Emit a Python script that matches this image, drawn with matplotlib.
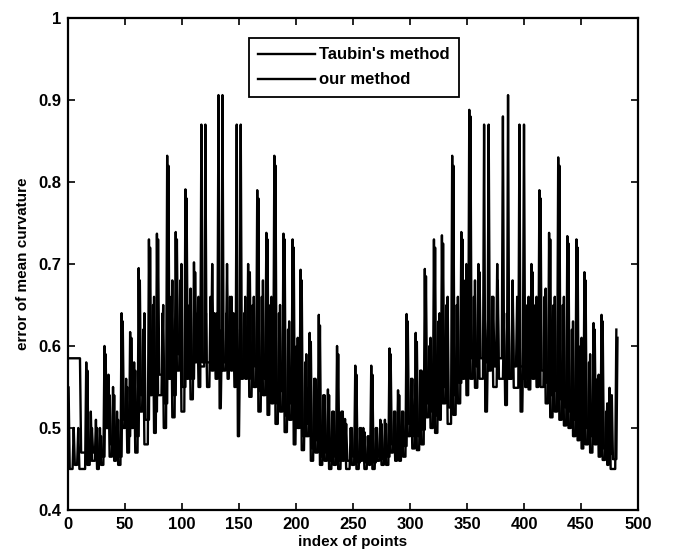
import matplotlib
matplotlib.use("Agg")
import matplotlib.pyplot as plt

# spike centres (point index), spike tops and the trough just before each spike,
# read off the scanned figure
taubin_x = [0.5, 5, 9, 16, 20, 24.5, 28, 32, 35.5, 39.5,
            43, 47, 51, 54.5, 58, 62, 66, 71, 74.5, 78,
            83, 87, 90.5, 94.5, 98.5, 103, 106.5, 110.5, 113.5, 117,
            121, 125, 128.5, 132, 135, 139, 142, 145, 148, 151,
            154.5, 158, 162, 166, 170, 174, 177.5, 181, 185, 189,
            193, 197, 200.5, 204, 208, 212, 216, 220, 224, 228,
            232, 236, 240, 243, 248, 252, 256, 259, 263, 266,
            270, 274, 278, 282, 286, 289.5, 293, 297, 301, 305,
            309, 313, 317, 321, 325, 328, 332, 337, 341, 345,
            348.5, 352, 356, 360, 365, 368.5, 372, 377, 382.5, 386,
            390, 396, 399.5, 403, 406.5, 410, 413.5, 418, 422, 426,
            430, 434, 438, 442, 446, 449.5, 453, 457, 461, 464.5,
            468, 472, 475, 481]
taubin_peak = [0.55, 0.50, 0.50, 0.58, 0.52, 0.51, 0.50, 0.60, 0.565, 0.55,
               0.52, 0.64, 0.56, 0.617, 0.58, 0.695, 0.62, 0.73, 0.65, 0.737,
               0.64, 0.832, 0.66, 0.739, 0.68, 0.791, 0.65, 0.702, 0.64, 0.87,
               0.64, 0.66, 0.64, 0.906, 0.62, 0.64, 0.66, 0.64, 0.87, 0.62,
               0.64, 0.70, 0.65, 0.79, 0.66, 0.738, 0.65, 0.832, 0.64, 0.737,
               0.62, 0.73, 0.60, 0.693, 0.58, 0.616, 0.56, 0.638, 0.54, 0.547,
               0.52, 0.60, 0.52, 0.511, 0.50, 0.576, 0.50, 0.50, 0.49, 0.576,
               0.50, 0.51, 0.51, 0.597, 0.52, 0.546, 0.52, 0.639, 0.56, 0.616,
               0.57, 0.694, 0.60, 0.73, 0.63, 0.735, 0.65, 0.832, 0.65, 0.739,
               0.68, 0.888, 0.66, 0.70, 0.87, 0.62, 0.66, 0.68, 0.64, 0.906,
               0.66, 0.87, 0.62, 0.65, 0.70, 0.65, 0.79, 0.66, 0.738, 0.65,
               0.83, 0.65, 0.734, 0.62, 0.73, 0.60, 0.69, 0.58, 0.628, 0.56,
               0.638, 0.52, 0.549, 0.62]
taubin_low = [0.55, 0.45, 0.455, 0.45, 0.455, 0.46, 0.45, 0.455, 0.50, 0.465,
              0.46, 0.455, 0.50, 0.47, 0.50, 0.47, 0.52, 0.48, 0.54, 0.494,
              0.54, 0.50, 0.56, 0.513, 0.57, 0.52, 0.56, 0.535, 0.58, 0.55,
              0.58, 0.55, 0.57, 0.56, 0.524, 0.57, 0.56, 0.57, 0.55, 0.49,
              0.56, 0.56, 0.538, 0.55, 0.52, 0.54, 0.516, 0.53, 0.505, 0.52,
              0.495, 0.51, 0.48, 0.50, 0.473, 0.49, 0.46, 0.47, 0.455, 0.46,
              0.45, 0.455, 0.45, 0.46, 0.45, 0.455, 0.45, 0.46, 0.45, 0.455,
              0.45, 0.46, 0.455, 0.455, 0.47, 0.46, 0.46, 0.465, 0.49, 0.475,
              0.473, 0.48, 0.513, 0.50, 0.494, 0.51, 0.53, 0.505, 0.516, 0.53,
              0.56, 0.54, 0.56, 0.549, 0.56, 0.52, 0.57, 0.55, 0.56, 0.528,
              0.56, 0.549, 0.52, 0.56, 0.547, 0.56, 0.55, 0.55, 0.53, 0.513,
              0.52, 0.51, 0.503, 0.50, 0.49, 0.485, 0.475, 0.48, 0.47, 0.48,
              0.465, 0.461, 0.455, 0.45]

ours_x = [0, 10.5, 17, 21, 25.5, 29, 33, 36.5, 40.5, 44,
          48, 52, 55.5, 59, 63, 67, 72, 75.5, 79, 83.5,
          88, 91.5, 95.5, 99.5, 104, 107.5, 111.5, 114.5, 120.5, 126.5,
          130.5, 135.5, 139.5, 143.5, 147, 151.5, 155.5, 159.5, 163, 167,
          171, 175, 178.5, 182, 186, 190, 194, 198, 201.5, 205,
          209, 213, 217, 221, 225, 229, 233, 237, 241, 244,
          249, 253, 257, 260, 264, 267, 271, 275, 279, 283,
          287, 290.5, 294, 298, 302, 306, 310, 314, 318, 322,
          326, 329, 333, 338, 342, 346, 349.5, 353, 357, 361,
          365.5, 369, 373, 376.5, 381.5, 385.5, 390, 394, 400, 404,
          407.5, 411, 414.5, 419, 423, 427, 431, 435, 439, 443,
          447, 450.5, 454, 458, 462, 465.5, 469, 473, 477, 482]
ours_peak = [0.585, 0.585, 0.57, 0.50, 0.50, 0.49, 0.59, 0.54, 0.54, 0.51,
             0.63, 0.55, 0.61, 0.57, 0.68, 0.64, 0.72, 0.66, 0.73, 0.65,
             0.82, 0.68, 0.73, 0.70, 0.78, 0.67, 0.69, 0.66, 0.87, 0.70,
             0.64, 0.906, 0.70, 0.66, 0.64, 0.87, 0.66, 0.69, 0.66, 0.78,
             0.68, 0.73, 0.66, 0.82, 0.65, 0.73, 0.63, 0.72, 0.61, 0.68,
             0.59, 0.605, 0.56, 0.625, 0.54, 0.54, 0.52, 0.59, 0.52, 0.505,
             0.50, 0.565, 0.50, 0.495, 0.49, 0.565, 0.50, 0.505, 0.505, 0.59,
             0.52, 0.54, 0.52, 0.63, 0.56, 0.605, 0.57, 0.685, 0.61, 0.72,
             0.64, 0.725, 0.66, 0.82, 0.66, 0.73, 0.70, 0.88, 0.68, 0.69,
             0.64, 0.87, 0.66, 0.70, 0.88, 0.64, 0.68, 0.66, 0.87, 0.66,
             0.69, 0.66, 0.78, 0.67, 0.73, 0.66, 0.82, 0.66, 0.725, 0.63,
             0.72, 0.61, 0.68, 0.59, 0.62, 0.565, 0.63, 0.53, 0.54, 0.61]
ours_low = [0.585, 0.585, 0.47, 0.46, 0.47, 0.46, 0.465, 0.50, 0.48, 0.47,
            0.465, 0.51, 0.49, 0.52, 0.49, 0.54, 0.51, 0.56, 0.52, 0.565,
            0.53, 0.58, 0.54, 0.59, 0.55, 0.58, 0.56, 0.60, 0.575, 0.58,
            0.59, 0.59, 0.58, 0.59, 0.58, 0.575, 0.57, 0.58, 0.56, 0.575,
            0.545, 0.56, 0.54, 0.555, 0.53, 0.545, 0.515, 0.53, 0.50, 0.52,
            0.49, 0.505, 0.475, 0.485, 0.465, 0.47, 0.46, 0.465, 0.46, 0.468,
            0.46, 0.465, 0.458, 0.465, 0.458, 0.462, 0.458, 0.465, 0.462, 0.465,
            0.48, 0.47, 0.472, 0.478, 0.505, 0.49, 0.49, 0.498, 0.53, 0.52,
            0.515, 0.53, 0.55, 0.525, 0.54, 0.555, 0.58, 0.565, 0.585, 0.575,
            0.585, 0.58, 0.585, 0.575, 0.585, 0.57, 0.56, 0.575, 0.575, 0.55,
            0.57, 0.58, 0.575, 0.57, 0.555, 0.54, 0.545, 0.535, 0.525, 0.52,
            0.51, 0.505, 0.495, 0.50, 0.49, 0.495, 0.48, 0.475, 0.468, 0.462]

x_ticks = [0, 50, 100, 150, 200, 250, 300, 350, 400, 450, 500]
y_ticks = [0.4, 0.5, 0.6, 0.7, 0.8, 0.9, 1.0]
y_tick_labels = ['0.4', '0.5', '0.6', '0.7', '0.8', '0.9', '1']


# narrow spike: trough -> top -> next trough
def trace(xs, peaks, lows, w=1.0):
    px, py = [], []
    for i in range(len(xs)):
        px += [xs[i] - w, xs[i]]
        py += [lows[i], peaks[i]]
        if i + 1 < len(xs):
            px.append(xs[i] + w)
            py.append(lows[i + 1])
    return px, py


plt.rcParams['font.family'] = ['Liberation Sans', 'DejaVu Sans']
plt.rcParams['font.weight'] = 'bold'

fig = plt.figure(figsize=(6.76, 5.59), dpi=100)
ax = fig.add_axes([0.1006, 0.0877, 0.8432, 0.8801])

tx, ty = trace(taubin_x, taubin_peak, taubin_low)
ox, oy = trace(ours_x, ours_peak, ours_low)
ax.plot(tx, ty, color='black', lw=1.7, label="Taubin's method")
ax.plot(ox, oy, color='black', lw=1.7, label='our method')

ax.set_xlim(0, 500)
ax.set_ylim(0.4, 1.0)
ax.set_xticks(x_ticks)
ax.set_yticks(y_ticks)
ax.set_yticklabels(y_tick_labels)
ax.tick_params(direction='in', top=True, right=True, length=5, width=1.2,
               labelsize=12, pad=5)
for s in ax.spines.values():
    s.set_linewidth(1.6)

ax.set_xlabel('index of points', fontsize=11, fontweight='bold', labelpad=2)
ax.set_ylabel('error of mean curvature', fontsize=11, fontweight='bold', labelpad=6)

leg = ax.legend(loc='upper left', bbox_to_anchor=(0.3175, 0.959), fontsize=12,
                handlelength=3.4, handletextpad=0.25, borderpad=0.55,
                labelspacing=0.6, fancybox=False, framealpha=1,
                edgecolor='black', borderaxespad=0)
leg.get_frame().set_linewidth(1.3)

fig.savefig('out.png', dpi=100)
